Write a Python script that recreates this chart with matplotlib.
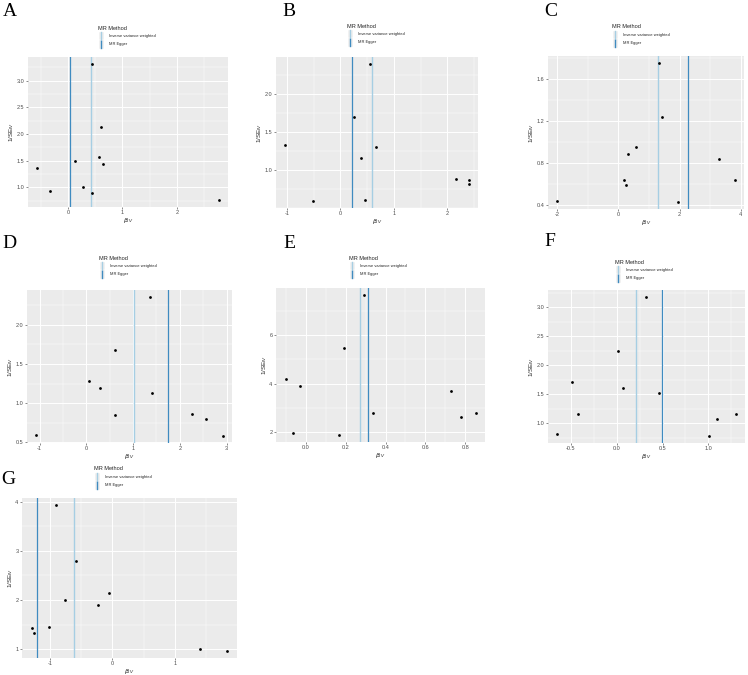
import matplotlib
matplotlib.use("Agg")
import matplotlib.pyplot as plt
from matplotlib.ticker import FixedLocator, AutoMinorLocator
from matplotlib.patches import Rectangle

plt.rcParams['font.family'] = ['Liberation Sans', 'DejaVu Sans']

# ---------------- data ----------------
panel_labels = ["A", "B", "C", "D", "E", "F", "G"]
methods = ["Inverse variance weighted", "MR Egger"]
method_colors = ["#a6cee3", "#3f8bc0"]

A_beta = [0.434, 0.612, 0.569, 0.636, 0.128, -0.569, -0.336, 0.269, 0.446, 2.777]
A_inv_se = [3.315, 2.136, 1.568, 1.444, 1.488, 1.364, 0.926, 1.0, 0.889, 0.759]
B_beta = [0.548, 0.255, 0.672, 0.386, -1.033, -0.504, 0.467, 2.153, 2.402, 2.402]
B_inv_se = [2.404, 1.696, 1.300, 1.161, 1.330, 0.587, 0.604, 0.878, 0.870, 0.809]
C_beta = [1.316, 1.411, 0.568, 0.316, 0.189, 0.263, -2.0, 1.958, 3.295, 3.811]
C_inv_se = [1.755, 1.240, 0.953, 0.886, 0.637, 0.596, 0.444, 0.432, 0.839, 0.640]
D_beta = [1.369, 0.621, 0.064, 0.300, 1.412, 0.606, -1.07, 2.254, 2.561, 2.917]
D_inv_se = [2.353, 1.674, 1.277, 1.193, 1.130, 0.853, 0.598, 0.862, 0.795, 0.581]
E_beta = [0.290, 0.189, -0.103, -0.032, -0.065, 0.165, 0.335, 0.728, 0.777, 0.852]
E_inv_se = [7.654, 5.48, 4.21, 3.92, 1.96, 1.89, 2.79, 3.722, 2.624, 2.814]
F_beta = [0.318, 0.018, -0.492, 0.071, 0.467, -0.421, -0.651, 1.012, 1.093, 1.302]
F_inv_se = [3.178, 2.244, 1.716, 1.602, 1.527, 1.155, 0.811, 0.782, 1.080, 1.166]
G_beta = [-0.901, -0.576, -0.757, -0.229, -0.048, -1.008, -1.291, -1.259, 1.397, 1.840]
G_inv_se = [3.932, 2.789, 1.993, 1.898, 2.136, 1.449, 1.429, 1.327, 1.0, 0.966]

ivw_b = [0.42, 0.585, 1.284, 1.02, 0.273, 0.209, -0.613]
egger_b = [0.031, 0.218, 2.274, 1.748, 0.313, 0.492, -1.205]

x_ticks = [[0, 1, 2], [-1, 0, 1, 2], [-2, 0, 2, 4], [-1, 0, 1, 2, 3],
           [0.0, 0.2, 0.4, 0.6, 0.8], [-0.5, 0.0, 0.5, 1.0], [-1, 0, 1]]
x_ticklabels = [["0", "1", "2"], ["-1", "0", "1", "2"], ["-2", "0", "2", "4"],
                ["-1", "0", "1", "2", "3"], ["0.0", "0.2", "0.4", "0.6", "0.8"],
                ["-0.5", "0.0", "0.5", "1.0"], ["-1", "0", "1"]]
y_ticks = [[1.0, 1.5, 2.0, 2.5, 3.0], [1.0, 1.5, 2.0], [0.4, 0.8, 1.2, 1.6],
           [0.5, 1.0, 1.5, 2.0], [2, 4, 6], [1.0, 1.5, 2.0, 2.5, 3.0], [1, 2, 3, 4]]
y_ticklabels = [["1.0", "1.5", "2.0", "2.5", "3.0"], ["1.0", "1.5", "2.0"],
                ["0.4", "0.8", "1.2", "1.6"], ["0.5", "1.0", "1.5", "2.0"],
                ["2", "4", "6"], ["1.0", "1.5", "2.0", "2.5", "3.0"], ["1", "2", "3", "4"]]

betas = [A_beta, B_beta, C_beta, D_beta, E_beta, F_beta, G_beta]
inv_ses = [A_inv_se, B_inv_se, C_inv_se, D_inv_se, E_inv_se, F_inv_se, G_inv_se]

# ---------------- layout (pixels) ----------------
W, H = 748, 675
axes_px = [(28, 57, 228, 207), (276, 57, 478, 208), (548, 56, 744, 209),
           (27, 290, 232, 443), (276, 288, 485, 442), (548, 290, 745, 443),
           (22, 498, 237, 658)]
letter_px = [(10, 12), (289, 12), (551, 12), (9, 244), (289, 244), (550, 242), (8, 479)]
legend_px = [(98, 28), (347, 26), (612, 27), (99, 258), (349, 258), (615, 262), (94, 469)]

fig = plt.figure(figsize=(W / 100, H / 100), dpi=100)

def fx(x):
    return x / W

def fy(y):
    return 1 - y / H

for i in range(7):
    x0, y0, x1, y1 = axes_px[i]
    ax = fig.add_axes([fx(x0), fy(y1), (x1 - x0) / W, (y1 - y0) / H])
    ax.set_facecolor("#EBEBEB")
    for s in ax.spines.values():
        s.set_visible(False)
    ax.scatter(betas[i], inv_ses[i], s=4, color="black", zorder=3, linewidths=0)
    ax.margins(0.05)
    ax.autoscale_view()
    xl = ax.get_xlim()
    yl = ax.get_ylim()
    ax.axvline(ivw_b[i], color=method_colors[0], lw=1.0, zorder=2)
    ax.axvline(egger_b[i], color=method_colors[1], lw=0.9, zorder=2)
    ax.set_xlim(xl)
    ax.set_ylim(yl)
    ax.xaxis.set_major_locator(FixedLocator(x_ticks[i]))
    ax.set_xticklabels(x_ticklabels[i])
    ax.yaxis.set_major_locator(FixedLocator(y_ticks[i]))
    ax.set_yticklabels(y_ticklabels[i])
    ax.xaxis.set_minor_locator(AutoMinorLocator(2))
    ax.yaxis.set_minor_locator(AutoMinorLocator(2))
    ax.grid(which="major", color="white", lw=0.7, zorder=0)
    ax.grid(which="minor", color="white", lw=0.35, zorder=0)
    ax.set_axisbelow(True)
    ax.tick_params(which="major", length=1.5, width=0.4, color="#333333",
                   labelsize=4.0, labelcolor="#4D4D4D", pad=1)
    ax.tick_params(which="minor", length=0)
    ax.set_xlabel(r"$\beta_{IV}$", fontsize=4.5, labelpad=0.5, color="#222222")
    ax.set_ylabel(r"1/SE$_{IV}$", fontsize=4.5, labelpad=0.3, color="#222222")

    # panel letter
    lx, ly = letter_px[i]
    fig.text(fx(lx), fy(ly), panel_labels[i], fontsize=14, family="Liberation Serif",
             ha="center", va="center")

    # legend
    tx, ty = legend_px[i]
    fig.text(fx(tx), fy(ty), "MR Method", fontsize=4.0, ha="left", va="center",
             color="#222222")
    kw, kh = 5.5, 8.3
    for k in range(2):
        ky = ty + 4 + k * kh
        fig.patches.append(Rectangle((fx(tx + 0.5), fy(ky + kh)), kw / W, kh / H,
                                     transform=fig.transFigure, facecolor="#EEEEEE",
                                     edgecolor="white", lw=0.3))
        fig.lines.append(plt.Line2D([fx(tx + 0.5 + kw / 2)] * 2,
                                    [fy(ky + 0.3), fy(ky + kh - 0.3)],
                                    transform=fig.transFigure,
                                    color=method_colors[k], lw=1.0))
        fig.text(fx(tx + 11), fy(ky + kh / 2), methods[k], fontsize=2.9,
                 ha="left", va="center", color="#222222")

fig.savefig("out.png", dpi=100, facecolor="white")
